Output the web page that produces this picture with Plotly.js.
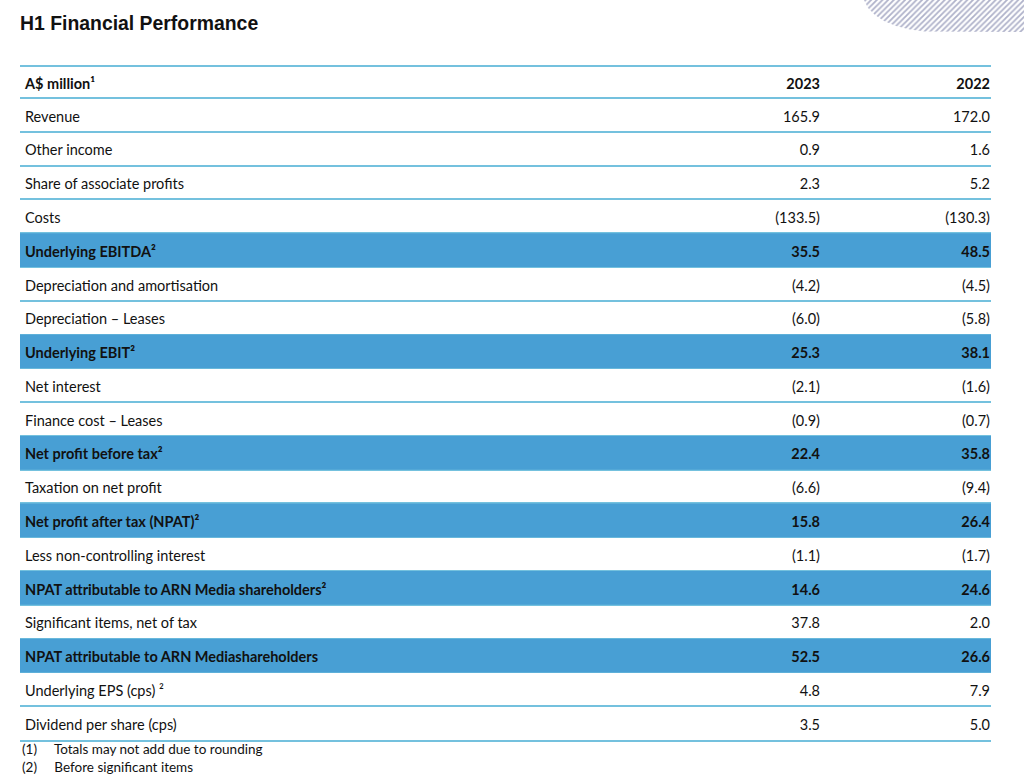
<!DOCTYPE html>
<html>
<head>
<meta charset="utf-8">
<script src="https://cdn.plot.ly/plotly-3.0.1.min.js"></script>
<style>html,body{margin:0;padding:0;background:#fff;}#chart{width:1024px;height:784px;}</style>
</head>
<body>
<div id="chart"></div>
<script>
// ---- data ----
const headerLabel = 'A$ million¹';
const years = ['2023', '2022'];
const rowLabels = [
  'Revenue',
  'Other income',
  'Share of associate profits',
  'Costs',
  'Underlying EBITDA²',
  'Depreciation and amortisation',
  'Depreciation – Leases',
  'Underlying EBIT²',
  'Net interest',
  'Finance cost – Leases',
  'Net profit before tax²',
  'Taxation on net profit',
  'Net profit after tax (NPAT)²',
  'Less non-controlling interest',
  'NPAT attributable to ARN Media shareholders²',
  'Significant items, net of tax',
  'NPAT attributable to ARN Mediashareholders',
  'Underlying EPS (cps) ²',
  'Dividend per share (cps)'
];
const values2023 = [165.9, 0.9, 2.3, -133.5, 35.5, -4.2, -6.0, 25.3, -2.1, -0.9, 22.4, -6.6, 15.8, -1.1, 14.6, 37.8, 52.5, 4.8, 3.5];
const values2022 = [172.0, 1.6, 5.2, -130.3, 48.5, -4.5, -5.8, 38.1, -1.6, -0.7, 35.8, -9.4, 26.4, -1.7, 24.6, 2.0, 26.6, 7.9, 5.0];
const highlighted = [false, false, false, false, true, false, false, true, false, false, true, false, true, false, true, false, true, false, false];
const footnotes = ['(1)&nbsp;&nbsp;&nbsp;&nbsp;&nbsp;Totals may not add due to rounding', '(2)&nbsp;&nbsp;&nbsp;&nbsp;&nbsp;Before significant items'];
const titleText = 'H1 Financial Performance';

// ---- layout constants ----
const W = 1024, H = 784;
const tableLeft = 20, tableRight = 991, tableTop = 67, tableBottom = 740;
const headerH = 31;
const nRows = rowLabels.length;
const rowH = (tableBottom - tableTop - headerH) / nRows;
const headerFrac = headerH / rowH;
const tableW = tableRight - tableLeft;
const col2023Right = 820 - tableLeft;
const col2022Right = 990 - tableLeft;
const blue = '#489fd4';
const lineBlue = '#74c1de';
const bodyFont = 'Lato, "Open Sans", sans-serif';
const textShift = 0.09; // rows: visual baseline offset

function fmt(v) {
  const s = Math.abs(v).toFixed(1);
  return v < 0 ? '(' + s + ')' : s;
}
function styled(t, i) { return highlighted[i] ? '<b>' + t + '</b>' : t; }

const rowY = rowLabels.map((_, i) => i + 0.5);
const headerY = -headerFrac / 2;
const textY = [headerY + textShift].concat(rowY.map(y => y + textShift));

const hiY = rowY.filter((_, i) => highlighted[i]);

const traces = [
  {
    type: 'bar', orientation: 'h',
    y: hiY, x: hiY.map(() => tableW), base: 0, width: 1,
    marker: { color: blue, line: { width: 0 } },
    hoverinfo: 'skip', showlegend: false
  },
  {
    type: 'scatter', mode: 'text',
    x: textY.map(() => 5),
    y: textY,
    text: ['<b>' + headerLabel + '</b>'].concat(rowLabels.map(styled)),
    textposition: 'middle right',
    textfont: { family: bodyFont, size: 14.5, color: '#111' },
    hoverinfo: 'skip', showlegend: false
  },
  {
    type: 'scatter', mode: 'text',
    x: textY.map(() => col2023Right),
    y: textY,
    text: ['<b>' + years[0] + '</b>'].concat(values2023.map((v, i) => styled(fmt(v), i))),
    textposition: 'middle left',
    textfont: { family: bodyFont, size: 14.5, color: '#111' },
    hoverinfo: 'skip', showlegend: false
  },
  {
    type: 'scatter', mode: 'text',
    x: textY.map(() => col2022Right),
    y: textY,
    text: ['<b>' + years[1] + '</b>'].concat(values2022.map((v, i) => styled(fmt(v), i))),
    textposition: 'middle left',
    textfont: { family: bodyFont, size: 14.5, color: '#111' },
    hoverinfo: 'skip', showlegend: false
  },
  // decorative hatched shape (top right)
  {
    type: 'scatter', mode: 'lines', xaxis: 'x2', yaxis: 'y2',
    x: [864, 868, 875, 884, 896, 910, 925, 1024, 1024, 864],
    y: [0, 8, 15, 21, 26, 29.5, 31.5, 32, 0, 0],
    fill: 'toself', fillcolor: 'rgba(0,0,0,0)',
    fillpattern: { shape: '/', fgcolor: '#afb2ca', bgcolor: '#ffffff', size: 4, solidity: 0.45 },
    line: { width: 0 }, hoverinfo: 'skip', showlegend: false
  }
];

const gridVals = [];
for (let k = 0; k <= nRows; k++) gridVals.push(k);

const layout = {
  width: W, height: H,
  margin: { l: 0, r: 0, t: 0, b: 0 },
  paper_bgcolor: '#fff', plot_bgcolor: 'rgba(0,0,0,0)',
  title: {
    text: '<b>' + titleText + '</b>',
    x: tableLeft / W, xanchor: 'left', xref: 'paper',
    y: 1 - 23 / H, yanchor: 'middle', yref: 'paper',
    font: { family: '"Liberation Sans", Arial, sans-serif', size: 19.4, color: '#111' }
  },
  xaxis: {
    domain: [tableLeft / W, tableRight / W], range: [0, tableW],
    showgrid: false, zeroline: false, showticklabels: false, ticks: '',
    showline: true, mirror: true, linecolor: lineBlue, linewidth: 2, fixedrange: true
  },
  yaxis: {
    domain: [1 - tableBottom / H, 1 - tableTop / H], range: [nRows, -headerFrac],
    tickmode: 'array', tickvals: gridVals, showticklabels: false, ticks: '',
    showgrid: true, gridcolor: lineBlue, gridwidth: 2, zeroline: false,
    showline: false, fixedrange: true
  },
  xaxis2: { domain: [0, 1], range: [0, W], visible: false, fixedrange: true, anchor: 'y2' },
  yaxis2: { domain: [0, 1], range: [H, 0], visible: false, fixedrange: true, anchor: 'x2' },
  annotations: footnotes.map((t, i) => ({
    text: t, xref: 'paper', yref: 'paper',
    x: tableLeft / W, y: 1 - (749 + i * 18) / H,
    xanchor: 'left', yanchor: 'middle', showarrow: false,
    font: { family: bodyFont, size: 13.5, color: '#111' }
  })),
  showlegend: false
};

Plotly.newPlot('chart', traces, layout, { displayModeBar: false, staticPlot: true });
</script>
</body>
</html>
